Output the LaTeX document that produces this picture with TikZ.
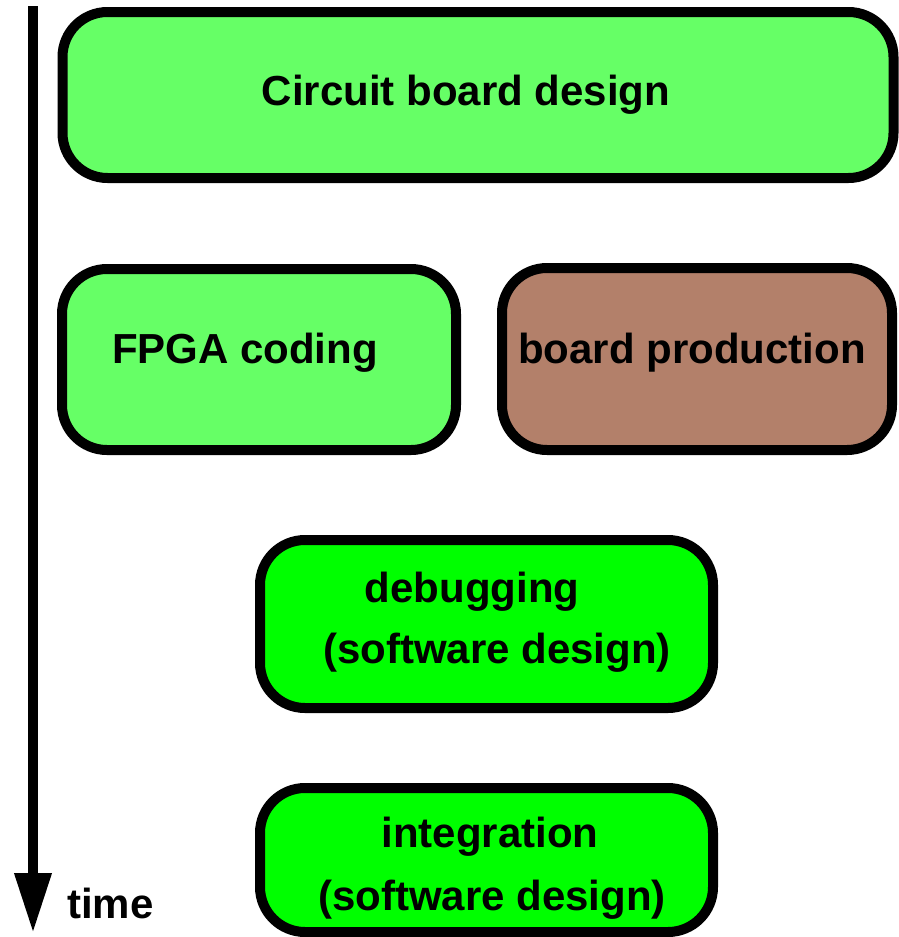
\documentclass[tikz,border=0pt]{standalone}
\usepackage{fontspec}
\setmainfont{Liberation Sans}
\usetikzlibrary{arrows.meta}
\definecolor{lightgreen}{HTML}{66FF66}
\definecolor{brightgreen}{HTML}{00FF00}
\definecolor{pcbbrown}{HTML}{B3806A}

\begin{document}
\begin{tikzpicture}[x=1pt,y=-1pt,
	phase/.style={draw,line width=10pt,rounded corners=45pt,inner sep=0pt},
	lbl/.style={anchor=base,inner sep=0pt,font=\bfseries\fontsize{42pt}{50pt}\selectfont}]
	\useasboundingbox (0,0) rectangle (899,937);
	\coordinate (tstart) at (33,6);
	\coordinate (tend) at (33,933);
	\draw[line width=10pt,-{Triangle[length=60pt,width=35pt]}] (tstart) -- (tend);
	\node[lbl,anchor=base west] (timelbl) at (67,918) {time};
	\node[phase,fill=lightgreen,minimum width=831pt,minimum height=166pt] (board) at (478,95) {};
	\node[lbl] at (466,105) {Circuit board design};
	\node[phase,fill=lightgreen,minimum width=394pt,minimum height=181pt] (fpga) at (259,359.5) {};
	\node[lbl] at (245,363) {FPGA coding};
	\node[phase,fill=pcbbrown,minimum width=390pt,minimum height=182pt] (prod) at (697,359) {};
	\node[lbl] at (692,363) {board production};
	\node[phase,fill=brightgreen,minimum width=453pt,minimum height=168pt] (debug) at (486.5,624) {};
	\node[lbl] at (472,602) {debugging};
	\node[lbl] at (497,663) {(software design)};
	\node[phase,fill=brightgreen,minimum width=453pt,minimum height=144pt] (integ) at (486.5,860) {};
	\node[lbl] at (490,847) {integration};
	\node[lbl] at (492,910) {(software design)};
\end{tikzpicture}
\end{document}
